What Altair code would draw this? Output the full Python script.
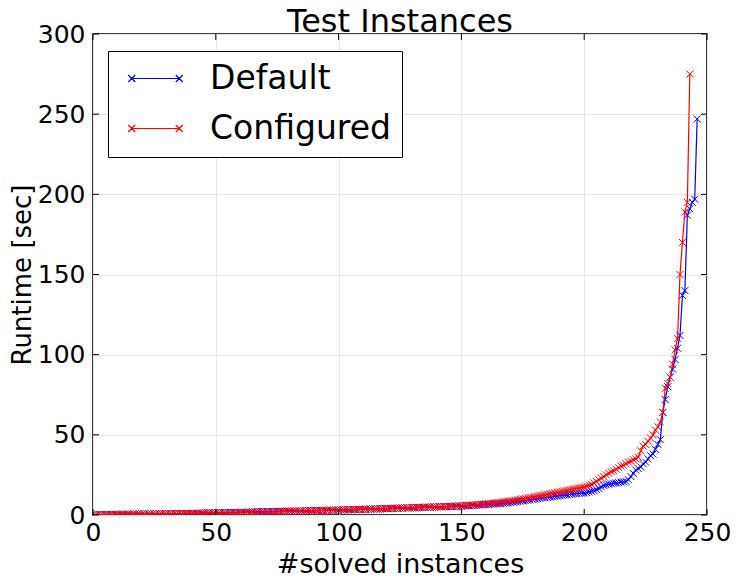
import altair as alt
import pandas as pd

# Sorted runtimes (sec), one value per solved instance
default_runtime = [
    0.1, 0.1, 0.2, 0.2, 0.2, 0.3, 0.3, 0.3, 0.3, 0.4,
    0.4, 0.4, 0.4, 0.4, 0.5, 0.5, 0.5, 0.5, 0.5, 0.5,
    0.6, 0.6, 0.6, 0.6, 0.6, 0.6, 0.7, 0.7, 0.7, 0.7,
    0.7, 0.7, 0.8, 0.8, 0.8, 0.8, 0.8, 0.9, 0.9, 0.9,
    0.9, 1.0, 1.0, 1.0, 1.1, 1.3, 1.3, 1.3, 1.4, 1.4,
    1.4, 1.4, 1.5, 1.5, 1.5, 1.5, 1.6, 1.6, 1.6, 1.6,
    1.7, 1.7, 1.7, 1.8, 1.8, 2.0, 2.0, 2.1, 2.1, 2.1,
    2.1, 2.2, 2.2, 2.2, 2.2, 2.3, 2.3, 2.3, 2.3, 2.4,
    2.4, 2.4, 2.5, 2.5, 2.5, 2.6, 2.6, 2.6, 2.7, 2.7,
    2.7, 2.8, 2.8, 2.8, 2.9, 2.9, 3.0, 3.0, 3.0, 3.1,
    3.1, 3.2, 3.2, 3.2, 3.3, 3.3, 3.4, 3.4, 3.5, 3.5,
    3.5, 3.6, 3.6, 3.7, 3.7, 3.8, 3.8, 3.9, 3.9, 4.0,
    4.0, 4.1, 4.1, 4.2, 4.2, 4.3, 4.3, 4.4, 4.4, 4.5,
    4.5, 4.6, 4.6, 4.7, 4.7, 4.8, 4.8, 4.9, 4.9, 5.0,
    5.0, 5.1, 5.1, 5.2, 5.2, 5.3, 5.3, 5.4, 5.4, 5.5,
    5.5, 5.6, 5.7, 5.8, 5.9, 6.0, 6.1, 6.2, 6.3, 6.4,
    6.5, 6.6, 6.7, 6.8, 6.9, 7.0, 7.1, 7.2, 7.4, 7.6,
    7.8, 8.0, 8.2, 8.4, 8.6, 8.8, 9.0, 9.2, 9.4, 9.7,
    10.0, 10.2, 10.4, 10.6, 10.8, 11.0, 11.2, 11.4, 11.6, 11.8,
    12.0, 12.2, 12.4, 12.6, 12.8, 13.0, 13.2, 13.4, 13.5, 13.6,
    13.7, 14.0, 14.4, 14.8, 15.2, 15.8, 16.5, 17.5, 18.4, 18.8,
    19.2, 19.5, 19.8, 20.0, 20.2, 20.5, 20.7, 21.0, 22.0, 24.0,
    26.0, 28.0, 29.0, 30.0, 32.0, 33.0, 35.0, 37.0, 38.0, 41.0,
    44.0, 47.0, 64.0, 72.0, 80.0, 86.0, 91.0, 97.0, 104.0, 112.0,
    137.0, 140.0, 187.0, 191.0, 195.0, 197.0, 247.0,
]

configured_runtime = [
    0.1, 0.1, 0.2, 0.2, 0.2, 0.3, 0.3, 0.3, 0.4, 0.4,
    0.4, 0.4, 0.5, 0.5, 0.5, 0.5, 0.5, 0.6, 0.6, 0.6,
    0.6, 0.6, 0.6, 0.7, 0.7, 0.7, 0.7, 0.7, 0.8, 0.8,
    0.8, 0.8, 0.8, 0.9, 0.9, 0.9, 0.9, 0.9, 1.0, 1.0,
    1.0, 1.0, 1.0, 1.1, 1.1, 1.1, 1.1, 1.2, 1.2, 1.2,
    1.2, 1.3, 1.3, 1.3, 1.3, 1.4, 1.4, 1.4, 1.4, 1.5,
    1.5, 1.5, 1.6, 1.6, 1.6, 1.7, 1.7, 1.7, 1.8, 1.8,
    1.8, 1.9, 1.9, 2.0, 2.0, 2.0, 2.1, 2.1, 2.2, 2.2,
    2.3, 2.3, 2.3, 2.4, 2.4, 2.5, 2.5, 2.6, 2.6, 2.6,
    2.7, 2.7, 2.8, 2.8, 2.9, 2.9, 3.0, 3.0, 3.0, 3.1,
    3.1, 3.2, 3.2, 3.3, 3.3, 3.3, 3.4, 3.4, 3.5, 3.5,
    3.6, 3.6, 3.7, 3.7, 3.8, 3.8, 3.9, 3.9, 4.0, 4.0,
    4.1, 4.1, 4.2, 4.2, 4.3, 4.3, 4.4, 4.4, 4.5, 4.5,
    4.6, 4.6, 4.7, 4.7, 4.8, 4.8, 4.9, 4.9, 5.0, 5.1,
    5.1, 5.2, 5.2, 5.3, 5.3, 5.4, 5.5, 5.5, 5.6, 5.7,
    5.8, 5.9, 6.0, 6.1, 6.2, 6.3, 6.5, 6.6, 6.7, 6.8,
    7.0, 7.1, 7.2, 7.4, 7.6, 7.8, 8.0, 8.2, 8.4, 8.6,
    8.8, 9.0, 9.2, 9.5, 9.8, 10.0, 10.3, 10.6, 10.9, 11.2,
    11.5, 11.8, 12.1, 12.4, 12.7, 13.0, 13.3, 13.6, 13.9, 14.2,
    14.5, 14.8, 15.1, 15.4, 15.7, 16.0, 16.3, 16.6, 16.9, 17.2,
    17.5, 18.0, 18.5, 19.0, 20.0, 21.0, 22.0, 23.0, 24.0, 25.0,
    26.0, 27.0, 27.5, 28.5, 29.5, 30.5, 31.0, 32.0, 33.0, 33.5,
    34.5, 35.0, 36.0, 40.0, 43.0, 44.0, 46.0, 48.0, 50.0, 53.0,
    55.0, 58.0, 64.0, 79.0, 82.0, 86.0, 94.0, 103.0, 110.0, 150.0,
    170.0, 189.0, 195.0, 275.0,
]

series_names = ["Default", "Configured"]
series_colors = ["#0000ff", "#ff0000"]
x_ticks = [0, 50, 100, 150, 200, 250]
y_ticks = [0, 50, 100, 150, 200, 250, 300]
chart_title = ["Test Instances"]

rows = []
for name, vals in zip(series_names, [default_runtime, configured_runtime]):
    for i, v in enumerate(vals):
        rows.append({"series": name, "solved": i, "runtime": v})
df = pd.DataFrame(rows)

W, H = 614, 481
FONT = "DejaVu Sans"
XMARK = "M-1,-1L1,1M-1,1L1,-1"
LEGSYM = ("M-1.7,0L1.7,0"
          "M-1.95,-0.25L-1.45,0.25M-1.95,0.25L-1.45,-0.25"
          "M1.45,-0.25L1.95,0.25M1.45,0.25L1.95,-0.25")

xs = alt.Scale(domain=[0, 250], nice=False)
ys = alt.Scale(domain=[0, 300], nice=False)
cs = alt.Scale(domain=series_names, range=series_colors)

x_axis = alt.Axis(title="#solved instances", values=x_ticks)
y_axis = alt.Axis(title="Runtime [sec]", values=y_ticks)
x_enc = alt.X("solved:Q", scale=xs, axis=x_axis)
y_enc = alt.Y("runtime:Q", scale=ys, axis=y_axis)

legend = alt.Legend(
    title=None, orient="none", legendX=15, legendY=17,
    fillColor="white", strokeColor="black", padding=11,
    labelFont=FONT, labelFontSize=33, labelColor="black", labelLimit=400,
    symbolType=LEGSYM, symbolSize=784, symbolStrokeWidth=1.2,
    symbolFillColor="transparent", symbolOffset=20, labelOffset=38,
    rowPadding=16, cornerRadius=0,
)

layers = []
for idx, name in enumerate(series_names):
    base = alt.Chart(df).transform_filter(alt.datum.series == name)
    col = alt.Color("series:N", scale=cs,
                    legend=legend if idx == 0 else None)
    line = base.mark_line(strokeWidth=1.2, clip=True).encode(
        x=x_enc, y=y_enc, color=col, order="solved:Q")
    pts = base.mark_point(shape=XMARK, filled=False, size=49,
                          strokeWidth=1, clip=True, opacity=1).encode(
        x=x_enc, y=y_enc, color=alt.Color("series:N", scale=cs, legend=None))
    layers += [line, pts]

xt = pd.DataFrame({"solved": x_ticks})
yt = pd.DataFrame({"runtime": y_ticks})
tick_style = dict(color="black", strokeWidth=1)
ticks = [
    alt.Chart(xt).mark_rule(**tick_style).encode(x=x_enc, y=alt.value(H), y2=alt.value(H - 6)),
    alt.Chart(xt).mark_rule(**tick_style).encode(x=x_enc, y=alt.value(0), y2=alt.value(6)),
    alt.Chart(yt).mark_rule(**tick_style).encode(y=y_enc, x=alt.value(0), x2=alt.value(6)),
    alt.Chart(yt).mark_rule(**tick_style).encode(y=y_enc, x=alt.value(W), x2=alt.value(W - 6)),
]

title_mark = alt.Chart(pd.DataFrame({"label": chart_title})).mark_text(
    font=FONT, fontSize=32, color="black", align="center", baseline="alphabetic"
).encode(text="label:N", x=alt.value(W / 2), y=alt.value(-2))

chart = alt.layer(*layers, *ticks, title_mark).properties(
    width=W, height=H,
    autosize=alt.AutoSizeParams(type="none"),
    padding={"left": 85, "top": 26, "right": 23, "bottom": 61},
).configure_view(
    stroke="black", strokeWidth=1.5
).configure_axis(
    labelFont=FONT, labelFontSize=25, labelColor="black",
    titleFont=FONT, titleFontSize=27, titleFontWeight="normal", titleColor="black",
    grid=True, gridColor="#e6e6e6", gridWidth=1,
    domain=False, ticks=False, labelFlush=False, labelOverlap=False,
).configure_axisX(
    labelPadding=5, titlePadding=6,
).configure_axisY(
    labelPadding=8, titlePadding=2, titleFontSize=26,
)

chart.save("out.html", embed_options={"renderer": "svg", "actions": False})
